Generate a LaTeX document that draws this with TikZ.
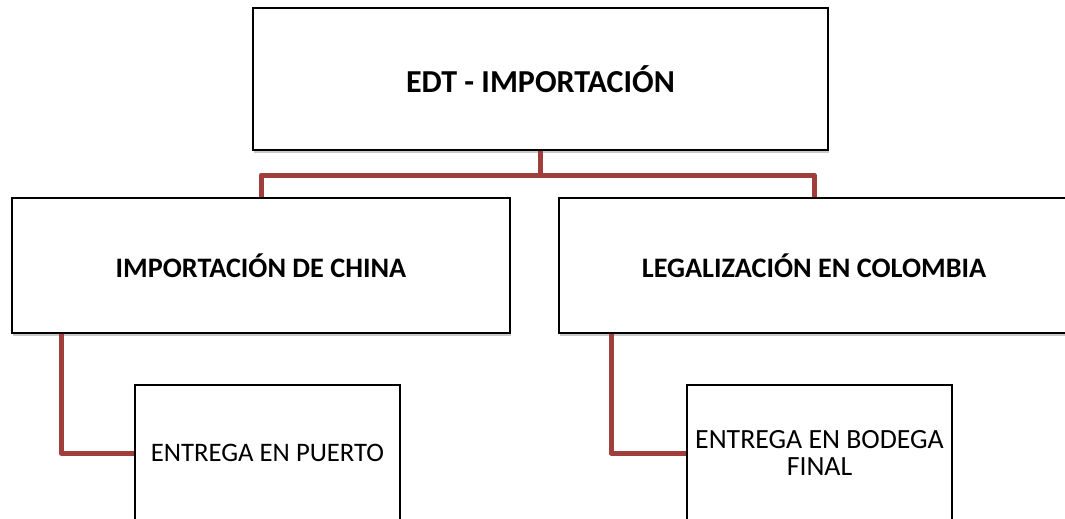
\documentclass[tikz,border=0pt]{standalone}
\usepackage{fontspec}
\setmainfont{Carlito}
\usetikzlibrary{shadows}
\definecolor{connred}{RGB}{160,62,60}
\tikzset{
  box/.style={draw=black, line width=1.6pt, fill=white, rectangle, inner sep=0pt, align=center,
    drop shadow={shadow xshift=1pt, shadow yshift=-2.5pt, opacity=0.35, fill=black!60}},
  toptitle/.style={font=\fontsize{32}{36}\selectfont\bfseries},
  title/.style={font=\fontsize{28.2}{32}\selectfont\bfseries},
  leaf/.style={font=\fontsize{26.7}{28}\selectfont},
  leafb/.style={font=\fontsize{27.8}{27.5}\selectfont}
}
\tikzset{conn/.style={draw=connred, line width=5pt, line join=round}}
\begin{document}
\begin{tikzpicture}[x=1pt,y=-1pt]
\useasboundingbox (0,0) rectangle (1065,519);
\fill[white] (0,0) rectangle (1065,519);
\coordinate (bus) at (0,175);
\node[box, toptitle, minimum width=575pt, minimum height=142pt] (top) at (540.5,79) {EDT - IMPORTACIÓN};
\node[box, title, minimum width=498pt, minimum height=135pt] (l1) at (261,265.5) {IMPORTACIÓN DE CHINA};
\node[box, title, minimum width=510pt, minimum height=135pt] (r1) at (814,265.5) {LEGALIZACIÓN EN COLOMBIA};
\node[box, leaf, minimum width=265pt, minimum height=136pt] (l2) at (267.5,453) {ENTREGA EN PUERTO};
\node[box, leafb, minimum width=265pt, minimum height=136pt] (r2) at (819.5,453) {ENTREGA EN BODEGA\\FINAL};
\draw[conn] (top.south) -- (top.south |- bus);
\draw[conn] (l1.north) |- (top.south |- bus) -| (r1.north);
\coordinate (la) at ([xshift=50pt]l1.south west);
\coordinate (ra) at ([xshift=53pt]r1.south west);
\draw[conn] (la) |- (l2.west);
\draw[conn] (ra) |- (r2.west);
\end{tikzpicture}
\end{document}
